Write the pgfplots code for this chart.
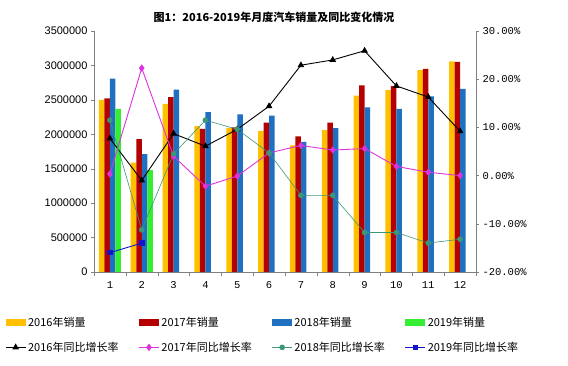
\documentclass[border=0pt]{standalone}
\usepackage{fontspec}
\setmainfont{Noto Sans CJK SC}
\newfontfamily\lsans{Liberation Sans}
\newfontfamily\lmono{Liberation Mono}
\usepackage{pgfplots}
\pgfplotsset{compat=1.18}
\definecolor{c16}{HTML}{FFC000}
\definecolor{c17}{HTML}{B40000}
\definecolor{c18}{HTML}{1F70C0}
\definecolor{c19}{HTML}{33EE33}
\definecolor{g16}{HTML}{000000}
\definecolor{g17}{HTML}{DD33DD}
\definecolor{g18}{HTML}{3C9678}
\definecolor{g19}{HTML}{1414C8}
\pgfplotsset{
  barleg/.style={legend image code/.code={\fill[##1] (0pt,-3.5pt) rectangle (20pt,3.5pt);}},
  linleg/.style={legend image code/.code={\draw[mark repeat=2,mark phase=2,##1] plot coordinates {(0pt,0pt) (10pt,0pt) (20pt,0pt)};}},
}
\begin{document}
\begin{tikzpicture}[x=1pt,y=1pt]
\path[use as bounding box] (0,0) rectangle (568,366);
\node[font=\bfseries\fontsize{11}{13}\selectfont] at (274,349) {图1：2016-2019年月度汽车销量及同比变化情况};
\begin{axis}[
  at={(94pt,94pt)}, anchor=south west, scale only axis,
  width=382pt, height=241pt,
  xmin=0.5, xmax=12.5, ymin=0, ymax=3500000,
  axis x line*=bottom, axis y line*=left,
  axis line style={gray},
  ybar=0pt, bar width=5.5pt,
  xtick={1,...,12}, major x tick style={draw=none},
  minor xtick={0.5,1.5,...,12.5}, minor tick length=4pt,
  minor x tick style={gray},
  ytick={0,500000,...,3500000}, scaled y ticks=false,
  ytick style={gray}, tick align=outside, major tick length=3pt,
  /pgf/number format/assume math mode=true,
  yticklabel style={font=\lsans\fontsize{11}{12}\selectfont, /pgf/number format/fixed, /pgf/number format/1000 sep={}},
  xticklabel style={font=\lmono\fontsize{10.5}{12}\selectfont, yshift=-3pt},
]
\addplot[fill=c16, draw=none] coordinates {(1,2500000)(2,1590000)(3,2440000)(4,2120000)(5,2090000)(6,2050000)(7,1840000)(8,2060000)(9,2560000)(10,2640000)(11,2930000)(12,3060000)};
\addplot[fill=c17, draw=none] coordinates {(1,2520000)(2,1930000)(3,2540000)(4,2080000)(5,2100000)(6,2170000)(7,1970000)(8,2170000)(9,2710000)(10,2700000)(11,2950000)(12,3050000)};
\addplot[fill=c18, draw=none] coordinates {(1,2810000)(2,1710000)(3,2650000)(4,2320000)(5,2290000)(6,2270000)(7,1890000)(8,2090000)(9,2390000)(10,2370000)(11,2550000)(12,2660000)};
\addplot[fill=c19, draw=none] coordinates {(1,2370000)(2,1480000)};
\end{axis}
\begin{axis}[
  at={(94pt,94pt)}, anchor=south west, scale only axis,
  width=382pt, height=241pt,
  xmin=0.5, xmax=12.5, ymin=-20, ymax=30,
  axis y line*=right, hide x axis,
  axis line style={gray},
  ytick={-20,-10,...,30}, ytick style={gray}, tick align=outside, major tick length=3pt,
  /pgf/number format/assume math mode=true,
  yticklabel={\pgfmathprintnumber[fixed,fixed zerofill,precision=2]{\tick}\%},
  yticklabel style={font=\lmono\fontsize{10.5}{12}\selectfont},
  legend columns=4,
  legend cell align=left,
  legend style={at={(axis description cs:0,0)}, anchor=north west, xshift=-89pt, yshift=-43pt,
    draw=none, fill=none, font=\fontsize{11}{13}\selectfont,
    /tikz/every even column/.append style={column sep=18pt}, row sep=10pt, inner sep=0pt},
]
\addlegendimage{barleg, fill=c16, draw=none}
\addlegendimage{barleg, fill=c17, draw=none}
\addlegendimage{barleg, fill=c18, draw=none}
\addlegendimage{barleg, fill=c19, draw=none}
\addplot[linleg, g16, line width=0.9pt, mark=triangle*, mark size=3pt] coordinates {(1,7.7)(2,-1.0)(3,8.7)(4,6.1)(5,9.6)(6,14.4)(7,22.9)(8,24.0)(9,25.9)(10,18.6)(11,16.3)(12,9.2)};
\addplot[linleg, g17, line width=0.9pt, mark=diamond*, mark size=3pt] coordinates {(1,0.35)(2,22.3)(3,4.0)(4,-2.2)(5,-0.1)(6,4.7)(7,6.25)(8,5.3)(9,5.6)(10,1.9)(11,0.7)(12,0.0)};
\addplot[linleg, g18, line width=0.6pt, mark=*, mark size=2.5pt] coordinates {(1,11.5)(2,-11.25)(3,4.5)(4,11.5)(5,9.6)(6,4.7)(7,-4.1)(8,-4.1)(9,-11.8)(10,-11.8)(11,-14.0)(12,-13.2)};
\addplot[linleg, g19, line width=0.9pt, mark=square*, mark size=2.2pt] coordinates {(1,-16.0)(2,-14.0)};
\legend{2016年销量,2017年销量,2018年销量,2019年销量,2016年同比增长率,2017年同比增长率,2018年同比增长率,2019年同比增长率}
\end{axis}
\end{tikzpicture}
\end{document}
